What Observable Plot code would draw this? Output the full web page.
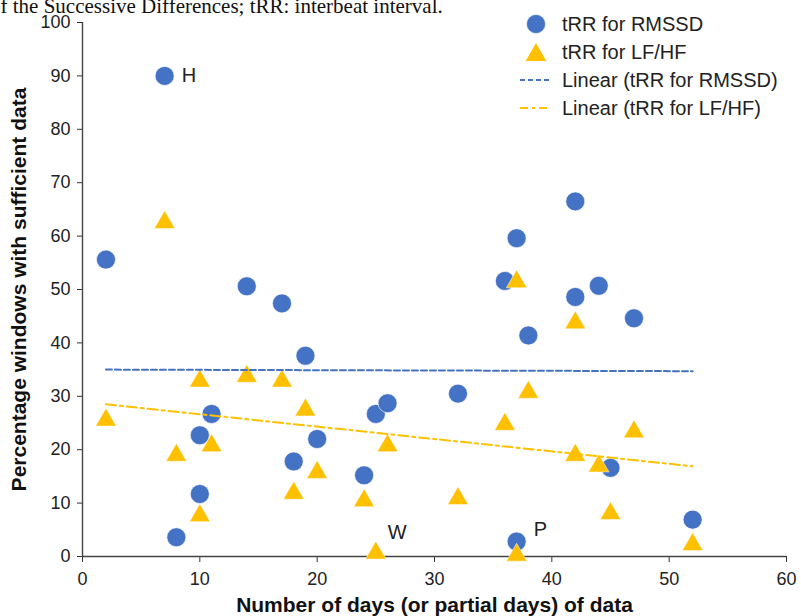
<!DOCTYPE html>
<html>
<head>
<meta charset="utf-8">
<script src="https://cdn.jsdelivr.net/npm/d3@7"></script>
<script src="https://cdn.jsdelivr.net/npm/@observablehq/plot@0.6"></script>
<style>
  body { margin: 0; background: #fff; }
  #wrap { position: relative; width: 801px; height: 616px; overflow: hidden; background: #fff; }
  #cap { position: absolute; left: -10px; top: -4px; font-family: "Liberation Serif", "Times New Roman", serif;
         font-size: 21px; line-height: 20px; color: #111; white-space: nowrap; }
</style>
</head>
<body>
<div id="wrap">
  <div id="chart"></div>
  <div id="cap">of the Successive Differences; tRR: interbeat interval.</div>
</div>
<script>
// ---- data ----
const rmssdDays = [2, 7, 8, 10, 10, 11, 14, 17, 18, 19, 20, 24, 25, 26, 32, 36, 37, 37, 38, 42, 42, 44, 45, 47, 52];
const rmssdPct  = [55.6, 90, 3.6, 22.7, 11.7, 26.7, 50.6, 47.4, 17.8, 37.6, 22.0, 15.2, 26.7, 28.7, 30.5, 51.6, 59.6, 2.8, 41.4, 66.5, 48.6, 50.7, 16.6, 44.6, 6.9];
const lfhfDays  = [2, 7, 8, 10, 10, 11, 14, 17, 18, 19, 20, 24, 25, 26, 32, 36, 37, 37, 38, 42, 42, 44, 45, 47, 52];
const lfhfPct   = [26.1, 63.1, 19.5, 33.4, 8.2, 21.3, 34.3, 33.4, 12.4, 28.0, 16.3, 11.0, 1.2, 21.3, 11.4, 25.3, 52.0, 0.8, 31.3, 44.3, 19.5, 17.5, 8.6, 23.9, 2.8];
const trendDays  = [2, 52];
const rmssdTrend = [35.0, 34.7];
const lfhfTrend  = [28.5, 16.9];
const labelNames = ["H", "W", "P"];
const labelDays  = [7, 25, 37];
const labelPct   = [90, 1.2, 2.8];
const xTicks = [0, 10, 20, 30, 40, 50, 60];
const yTicks = [0, 10, 20, 30, 40, 50, 60, 70, 80, 90, 100];
const seriesNames = ["tRR for RMSSD", "tRR for LF/HF", "Linear (tRR for RMSSD)", "Linear (tRR for LF/HF)"];
const xLabel = "Number of days (or partial days) of data";
const yLabel = "Percentage windows with sufficient data";

const BLUE = "#4472C4", YELLOW = "#FFC000";
const FONT = "'Liberation Sans', Arial, Helvetica, sans-serif";

// triangle centred on its bounding box (Excel-style marker)
const triBox = {
  draw(ctx, size) {
    const s = Math.sqrt(size / (Math.sqrt(3) / 4));
    const h = s * Math.sqrt(3) / 2;
    ctx.moveTo(0, -h / 2);
    ctx.lineTo(s / 2, h / 2);
    ctx.lineTo(-s / 2, h / 2);
    ctx.closePath();
  }
};

const idx = d3.range(rmssdDays.length);
const idx2 = d3.range(lfhfDays.length);
const lbl = (i, dx, dy) => Plot.text([i], {
  x: j => labelDays[j], y: j => labelPct[j], text: j => labelNames[j],
  textAnchor: "start", dx, dy, fontSize: 20, fill: "#222"
});

const chart = Plot.plot({
  width: 801, height: 616,
  marginLeft: 82, marginRight: 15, marginTop: 22, marginBottom: 60,
  x: { domain: [0, 60] },
  y: { domain: [0, 100] },
  style: { fontFamily: FONT, fontSize: "18px", color: "#333", background: "#fff" },
  marks: [
    Plot.axisX({ ticks: xTicks, tickSize: 6, tickPadding: 10, label: null, fontSize: 18, fill: "#222" }),
    Plot.axisY({ ticks: yTicks, tickSize: 5, tickPadding: 7, label: null, fontSize: 18, fill: "#222" }),
    Plot.ruleX([0], { stroke: "#444", strokeWidth: 1.4 }),
    Plot.ruleY([0], { stroke: "#444", strokeWidth: 1.4 }),
    Plot.dot(idx, { x: i => rmssdDays[i], y: i => rmssdPct[i], r: 9.5, fill: BLUE, stroke: "#fff", strokeWidth: 0.6 }),
    Plot.dot(idx2, { x: i => lfhfDays[i], y: i => lfhfPct[i], r: 7.65, symbol: triBox, fill: YELLOW, stroke: "#fff", strokeWidth: 0.5 }),
    Plot.line(trendDays, { x: trendDays, y: rmssdTrend, stroke: BLUE, strokeWidth: 2, strokeDasharray: "6,3" }),
    Plot.line(trendDays, { x: trendDays, y: lfhfTrend, stroke: YELLOW, strokeWidth: 2, strokeDasharray: "10,4,3,4" }),
    lbl(0, 17, 0),
    lbl(1, 12, -17),
    lbl(2, 17, -12),
    Plot.text([xLabel], { text: d => d, frameAnchor: "bottom", textAnchor: "middle", lineAnchor: "middle", dy: 49, fontWeight: "bold", fontSize: 21, fill: "#111" }),
    Plot.text([yLabel], { text: d => d, frameAnchor: "left", textAnchor: "middle", lineAnchor: "middle", dx: -63, rotate: -90, fontWeight: "bold", fontSize: 21, fill: "#111" })
  ]
});

document.getElementById("chart").appendChild(chart);

// legend (top right, inside the chart area)
const svg = d3.select(chart);
const lg = svg.append("g").attr("font-family", FONT).attr("font-size", 20).attr("fill", "#222").attr("text-anchor", "start");
const lx = 536, tx = 562;
lg.append("circle").attr("cx", lx).attr("cy", 24).attr("r", 9.5).attr("fill", BLUE).attr("stroke", "#fff").attr("stroke-width", 0.6);
lg.append("path").attr("d", d3.symbol(triBox, Math.PI * 7.65 * 7.65)()).attr("transform", `translate(${lx},52)`).attr("fill", YELLOW);
lg.append("line").attr("x1", 520).attr("x2", 551).attr("y1", 80).attr("y2", 80).attr("stroke", BLUE).attr("stroke-width", 2).attr("stroke-dasharray", "5,3");
lg.append("line").attr("x1", 520).attr("x2", 551).attr("y1", 108).attr("y2", 108).attr("stroke", YELLOW).attr("stroke-width", 2).attr("stroke-dasharray", "8,4,3,4");
const ly = [31, 59, 87, 115];
seriesNames.forEach((s, i) => lg.append("text").attr("x", tx).attr("y", ly[i]).attr("text-anchor", "start").text(s));
</script>
</body>
</html>
